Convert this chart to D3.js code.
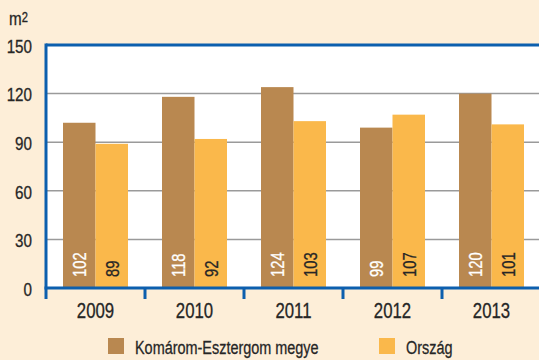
<!DOCTYPE html>
<html>
<head>
<meta charset="utf-8">
<script src="https://cdn.jsdelivr.net/npm/d3@7"></script>
<style>
  html, body { margin: 0; padding: 0; background: #FDEED8; }
  svg { display: block; }
  text { font-family: "Liberation Sans", Arial, sans-serif; fill: #262626; stroke: #262626; stroke-width: 0.3px; }
</style>
</head>
<body>
<svg id="chart" width="539" height="360"></svg>
<script>
// Average floor area of new dwellings (m²)
const years = ["2009", "2010", "2011", "2012", "2013"];
const county = [102, 118, 124, 99, 120];
const country = [89, 92, 103, 107, 101];
const seriesNames = ["Komárom-Esztergom megye", "Ország"];
const yTicks = [0, 30, 60, 90, 120, 150];

const colors = ["#B98850", "#FAB84B"];
const axisBlue = "#0C5FAE";
const narrow = 0.8; // horizontal squeeze for a condensed look

const W = 539, H = 360;
const svg = d3.select("#chart");

svg.append("rect").attr("width", W).attr("height", H).attr("fill", "#FDEED8");

const x = d3.scaleBand().domain(years).range([46, 541]).paddingInner(0).paddingOuter(0);
const y = d3.scaleLinear().domain([0, 150]).range([288, 45]);

// plot area
svg.append("rect")
  .attr("x", x.range()[0]).attr("y", y(150))
  .attr("width", x.range()[1] - x.range()[0]).attr("height", y(0) - y(150))
  .attr("fill", "#ffffff");

// gridlines
svg.append("g").selectAll("line")
  .data(yTicks.filter(t => t > 0 && t < 150))
  .join("line")
  .attr("x1", x.range()[0]).attr("x2", x.range()[1])
  .attr("y1", d => y(d)).attr("y2", d => y(d))
  .attr("stroke", "#9a9a9a").attr("stroke-width", 1.5);

// bars
const inner = 17;
const bw = (x.bandwidth() - 2 * inner) / 2;
const rows = years.map((yr, i) => ({ yr, vals: [county[i], country[i]] }));

const groups = svg.append("g").selectAll("g")
  .data(rows).join("g")
  .attr("transform", d => `translate(${x(d.yr) + inner},0)`);

groups.selectAll("rect")
  .data(d => d.vals.map((v, k) => ({ v, k })))
  .join("rect")
  .attr("x", d => d.k * bw)
  .attr("y", d => y(d.v))
  .attr("width", bw)
  .attr("height", d => y(0) - y(d.v))
  .attr("fill", d => colors[d.k]);

// value labels, rotated, at the base of each bar
groups.selectAll("text")
  .data(d => d.vals.map((v, k) => ({ v, k })))
  .join("text")
  .attr("transform", d => `translate(${d.k * bw + bw / 2 + 7},${y(0) - 11}) rotate(-90) scale(${narrow},1)`)
  .attr("text-anchor", "start")
  .attr("font-size", 18.5)
  .style("fill", d => d.k === 0 ? "#ffffff" : "#262626")
  .style("stroke", d => d.k === 0 ? "#ffffff" : "#262626")
  .text(d => d.v);

// left axis line
svg.append("line")
  .attr("x1", 46).attr("x2", 46)
  .attr("y1", y(150) - 1.5).attr("y2", y(0))
  .attr("stroke", axisBlue).attr("stroke-width", 3);

// top border
svg.append("line")
  .attr("x1", 46).attr("x2", W)
  .attr("y1", y(150)).attr("y2", y(150))
  .attr("stroke", axisBlue).attr("stroke-width", 3);

// y tick labels
const yAxis = svg.append("g")
  .attr("transform", "translate(32,0)")
  .call(d3.axisLeft(y).tickValues(yTicks).tickSize(0).tickPadding(0));
yAxis.select(".domain").remove();
yAxis.selectAll("text")
  .attr("x", 0)
  .attr("dy", "0.38em")
  .attr("font-size", 19)
  .attr("font-family", null)
  .attr("fill", null)
  .attr("transform", `scale(${narrow},1)`);

// x axis with category boundary ticks
const xAxisG = svg.append("g").attr("transform", `translate(0,${y(0)})`);
xAxisG.append("line")
  .attr("x1", 44.5).attr("x2", W)
  .attr("stroke", axisBlue).attr("stroke-width", 3);
xAxisG.selectAll("line.tick")
  .data(years).join("line").attr("class", "tick")
  .attr("x1", d => x(d)).attr("x2", d => x(d))
  .attr("y1", 0).attr("y2", 11)
  .attr("stroke", axisBlue).attr("stroke-width", 3);
xAxisG.selectAll("text")
  .data(years).join("text")
  .attr("transform", d => `translate(${x(d) + x.bandwidth() / 2},30) scale(${narrow - 0.02},1)`)
  .attr("text-anchor", "middle")
  .attr("font-size", 21.5)
  .text(d => d);

// unit label
const unit = svg.append("text")
  .attr("transform", `translate(9,25) scale(${narrow},1)`)
  .attr("font-size", 19);
unit.append("tspan").text("m");
unit.append("tspan").attr("font-size", 14).attr("dy", -3).text("2");

// legend
const legendX = [108, 379];
const legend = svg.append("g").selectAll("g")
  .data(seriesNames).join("g")
  .attr("transform", (d, i) => `translate(${legendX[i]},338)`);
legend.append("rect").attr("width", 16).attr("height", 16).attr("fill", (d, i) => colors[i]);
legend.append("text")
  .attr("transform", `translate(27,16) scale(0.76,1)`)
  .attr("font-size", 19)
  .text(d => d);
</script>
</body>
</html>
